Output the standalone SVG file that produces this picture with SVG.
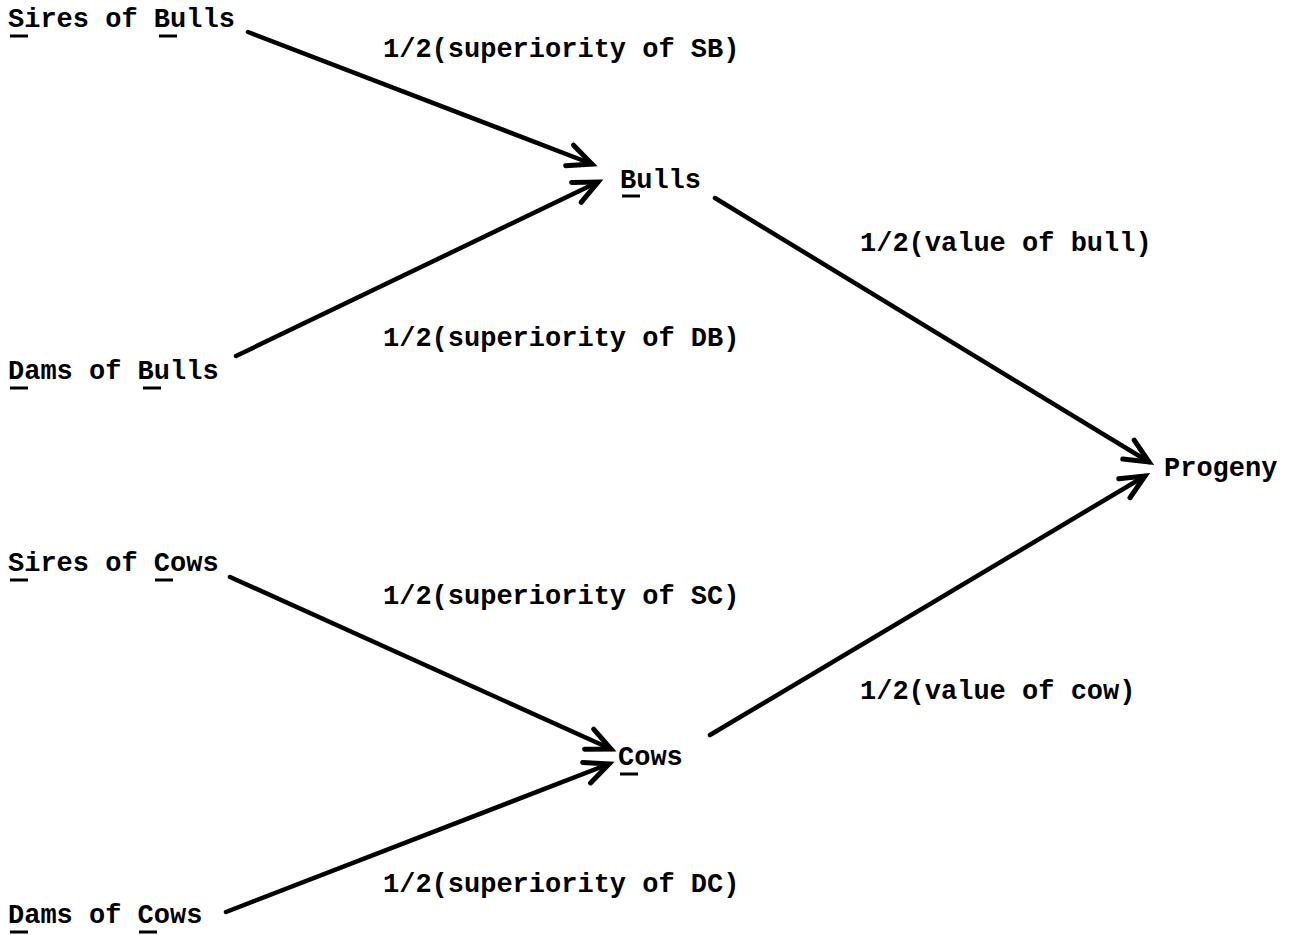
<svg xmlns="http://www.w3.org/2000/svg" width="1300" height="935" viewBox="0 0 1300 935">
<style>
text{font-family:"Liberation Mono","DejaVu Sans Mono",monospace;font-size:27px;fill:#000;font-weight:bold}
.u{stroke:#000;stroke-width:3}
.c{stroke:#000;stroke-width:4.5;fill:none;stroke-linecap:round}
</style>
<defs>
<marker id="ah" markerUnits="userSpaceOnUse" markerWidth="40" markerHeight="40" refX="0" refY="0" viewBox="-30 -20 40 40" orient="auto" overflow="visible">
<path d="M-24,-11 L0,0 L-24,11" fill="none" stroke="#000" stroke-width="5" stroke-linejoin="miter" stroke-linecap="round"/>
</marker>
</defs>
<rect width="1300" height="935" fill="#fff"/>
<g id="connectors">
<line class="c" x1="248" y1="32" x2="592" y2="164" marker-end="url(#ah)"/>
<line class="c" x1="236" y1="356" x2="598" y2="182" marker-end="url(#ah)"/>
<line class="c" x1="715" y1="198" x2="1149" y2="462" marker-end="url(#ah)"/>
<line class="c" x1="710" y1="735" x2="1145" y2="476" marker-end="url(#ah)"/>
<line class="c" x1="230" y1="577" x2="611" y2="749" marker-end="url(#ah)"/>
<line class="c" x1="226" y1="912" x2="609" y2="764" marker-end="url(#ah)"/>
</g>
<g id="labels">
<text x="383" y="57">1/2(superiority of SB)</text>
<text x="383" y="346">1/2(superiority of DB)</text>
<text x="860" y="251">1/2(value of bull)</text>
<text x="860" y="699">1/2(value of cow)</text>
<text x="383" y="604">1/2(superiority of SC)</text>
<text x="383" y="892">1/2(superiority of DC)</text>
</g>
<g id="sires-of-bulls">
<text x="8" y="27">Sires of Bulls</text>
<line class="u" x1="10" y1="36" x2="28" y2="36"/>
<line class="u" x1="159" y1="36" x2="177" y2="36"/>
</g>
<g id="dams-of-bulls">
<text x="8" y="379">Dams of Bulls</text>
<line class="u" x1="10" y1="388" x2="28" y2="388"/>
<line class="u" x1="143" y1="388" x2="161" y2="388"/>
</g>
<g id="bulls">
<text x="620" y="188">Bulls</text>
<line class="u" x1="622" y1="196" x2="640" y2="196"/>
</g>
<g id="progeny">
<text x="1164" y="476">Progeny</text>
</g>
<g id="sires-of-cows">
<text x="8" y="571">Sires of Cows</text>
<line class="u" x1="10" y1="580" x2="28" y2="580"/>
<line class="u" x1="155" y1="580" x2="173" y2="580"/>
</g>
<g id="cows">
<text x="618" y="765">Cows</text>
<line class="u" x1="620" y1="774" x2="638" y2="774"/>
</g>
<g id="dams-of-cows">
<text x="8" y="923">Dams of Cows</text>
<line class="u" x1="10" y1="932" x2="28" y2="932"/>
<line class="u" x1="139" y1="932" x2="157" y2="932"/>
</g>
</svg>
